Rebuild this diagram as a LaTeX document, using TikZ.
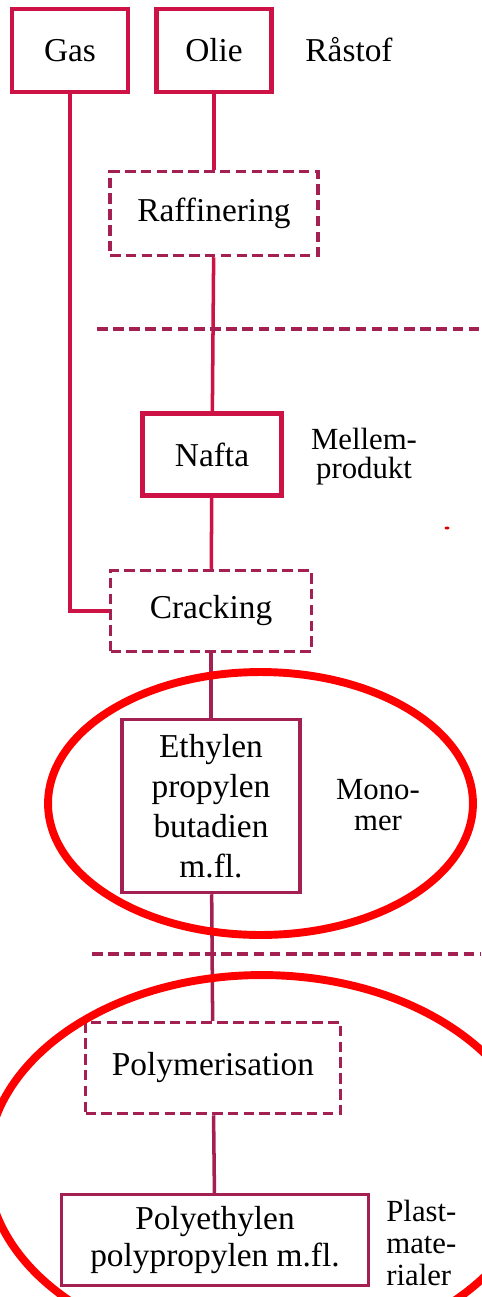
\documentclass[tikz,border=0pt]{standalone}
\usepackage{fontspec}
\setmainfont{Liberation Serif}
\definecolor{boxred}{RGB}{205,18,70}
\definecolor{darkred}{RGB}{165,32,82}
\tikzset{
  box/.style={draw=boxred,line width=2.3pt,inner sep=0pt,align=center,font=\fontsize{19}{22.7}\selectfont},
  dbox/.style={box,draw=darkred,line width=2pt,dash pattern=on 6pt off 3pt},
  link/.style={draw=boxred,line width=2pt},
  sep/.style={draw=darkred,line width=2pt,dash pattern=on 6pt off 3.2pt},
  tag/.style={inner sep=0pt,font=\fontsize{17.5}{#1}\selectfont},
  ring/.style={draw=red,line width=4.5pt}
}
\begin{document}
\begin{tikzpicture}[x=0.02cm,y=-0.02cm]
\useasboundingbox (0,0) rectangle (481,1297);

\node[box,minimum width=2.32cm,minimum height=1.66cm] (gas) at (70,50.5) {Gas};
\node[box,minimum width=2.30cm,minimum height=1.66cm] (olie) at (214,50.5) {Olie};
\node[dbox,minimum width=4.16cm,minimum height=1.68cm] (raff) at (214,213.5) {Raffinering};
\node[box,minimum width=2.78cm,minimum height=1.64cm] (nafta) at (212,454.5) {Nafta};
\node[dbox,minimum width=4.02cm,minimum height=1.62cm] (crack) at (211,611) {Cracking};
\node[box,draw=darkred,line width=2pt,minimum width=3.56cm,minimum height=3.46cm] (mono) at (211,806) {Ethylen\\propylen\\butadien\\m.fl.};
\node[dbox,minimum width=5.10cm,minimum height=1.82cm] (polym) at (213,1068) {Polymerisation};
\node[box,draw=darkred,line width=2pt,minimum width=6.14cm,minimum height=1.82cm,font=\fontsize{19}{21}\selectfont] (plast) at (215,1240) {Polyethylen\\polypropylen m.fl.};

\node[tag=20,font=\fontsize{19}{20}\selectfont] (raa) at (349,50) {Råstof};
\node[tag=16.5,align=center] (mell) at (364,457) {Mellem-\\produkt};
\node[tag=17.5,align=center] (mon) at (378,805) {Mono-\\mer};
\node[tag=18,align=left,anchor=west] (pla) at (386,1243) {Plast-\\mate-\\rialer};

\draw[link] (gas) |- (crack);
\draw[link] (olie) -- (raff);
\draw[link] (raff) -- (nafta);
\draw[link] (nafta) -- (crack);
\draw[link,draw=darkred] (crack) -- (mono);
\draw[link,draw=darkred] (mono) -- (polym);
\draw[link,draw=darkred] (polym) -- (plast);

\foreach \x/\y in {97/329,92/954}{
  \draw[sep] (\x,\y) -- (481,\y);
}
\fill[red!85!black] (447,528) ellipse [x radius=0.05cm,y radius=0.03cm];

\draw[ring] (260.5,803.5) ellipse [x radius=4.25cm,y radius=2.63cm];
\draw[ring] (262,1165) ellipse [x radius=5.5cm,y radius=3.8cm];

\end{tikzpicture}
\end{document}
